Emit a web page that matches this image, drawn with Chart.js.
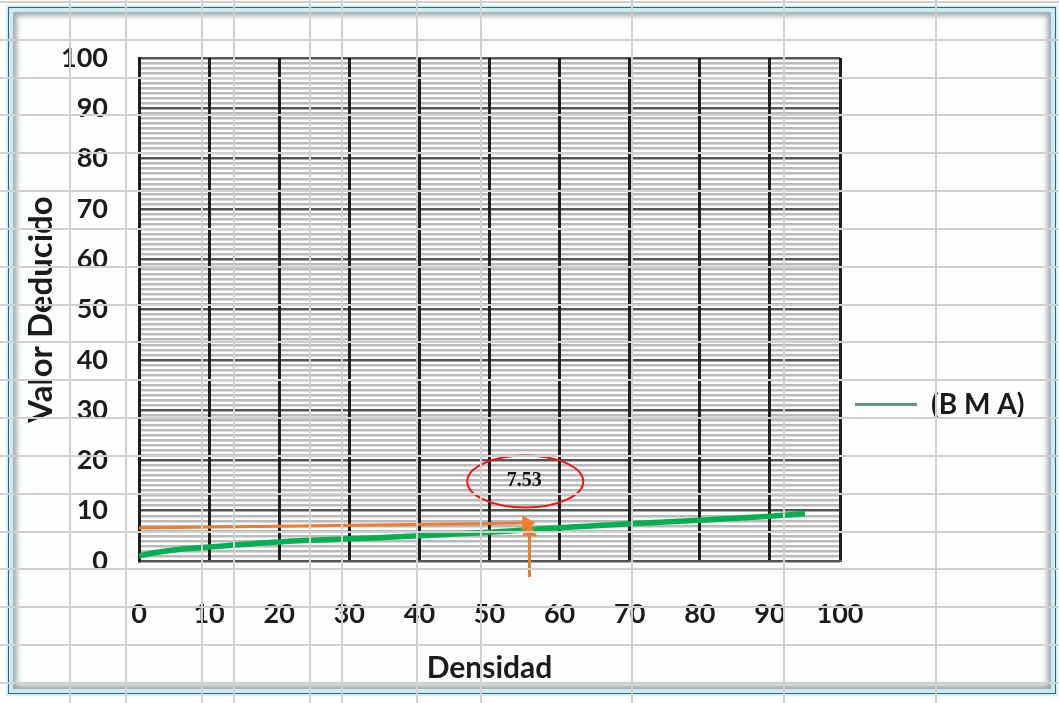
<!DOCTYPE html>
<html>
<head>
<meta charset="utf-8">
<title>Valor Deducido vs Densidad</title>
<script src="https://cdn.jsdelivr.net/npm/chart.js@4/dist/chart.umd.min.js"></script>
<style>
  html, body { margin: 0; padding: 0; background: #fff; }
  #hoja-calculo { position: relative; width: 1059px; height: 703px; overflow: hidden; background: #fff; }
  /* marco del área del gráfico */
  #marco {
    position: absolute; left: 8px; top: 7px; width: 1046px; height: 685px;
    border: 1px solid #3b6371; background: #fdfefe;
    box-shadow: 0 0 0 2px #d3f0f6, inset 0 0 0 4px #c9ecf4, inset 0 0 5px 8px #a6acb0;
  }
  #grafico { position: absolute; left: 0; top: 0; }
  /* cuadrícula de las celdas por encima de todo */
  #celdas {
    position: absolute; left: 0; top: 0; width: 1059px; height: 703px; pointer-events: none;
    background-image:
      repeating-linear-gradient(to bottom, transparent 0 1px, #d0d0d0 1px 3px, transparent 3px 37.83px),
      linear-gradient(to right,
        transparent 69px, #d0d0d0 69px 71px,
        transparent 71px 125px, #d0d0d0 125px 127px,
        transparent 127px 201px, #d0d0d0 201px 203px,
        transparent 203px 233px, #d0d0d0 233px 235px,
        transparent 235px 309px, #d0d0d0 309px 311px,
        transparent 311px 341px, #d0d0d0 341px 343px,
        transparent 343px 416px, #d0d0d0 416px 418px,
        transparent 418px 480px, #d0d0d0 480px 482px,
        transparent 482px 631px, #d0d0d0 631px 633px,
        transparent 633px 783px, #d0d0d0 783px 785px,
        transparent 785px 935px, #d0d0d0 935px 937px,
        transparent 937px);
  }
</style>
</head>
<body>
<div id="hoja-calculo">
  <div id="marco"></div>
  <canvas id="grafico" width="1059" height="703"></canvas>
  <div id="celdas"></div>
</div>
<script>
// Curva de valor deducido (B M A)
const densidad      = [0, 2, 5, 10, 20, 30, 40, 50, 60, 70, 80, 90, 95];
const valorDeducido = [1.0, 1.6, 2.2, 2.8, 3.8, 4.4, 5.0, 5.7, 6.6, 7.4, 8.1, 8.9, 9.4];
const nombreSerie   = '(B M A)';

// Marcas de los ejes
const ticksDensidad = [0, 10, 20, 30, 40, 50, 60, 70, 80, 90, 100];
const ticksValor    = [0, 10, 20, 30, 40, 50, 60, 70, 80, 90, 100];

// Lectura sobre la curva
const lecturaValor     = 7.53;
const lecturaDensidad  = 55.7;
const flechaHorizX     = [0, 55.3];
const flechaHorizY     = [6.56, lecturaValor];
const flechaVertX      = [lecturaDensidad, lecturaDensidad];
const flechaVertY      = [-3.2, 5.8];
const rotuloX          = 55.1;
const rotuloY          = 15.8;

const FUENTE = 'Lato, "Open Sans", "DejaVu Sans", sans-serif';
const VERDE = '#00b050';
const NARANJA = '#ed7d31';
const COLOR_LEYENDA = '#5f9488';

const puntos = (xs, ys) => xs.map((x, i) => ({ x, y: ys[i] }));

// Ancho de la leyenda, para que el área de trazado termine donde corresponde
const LEY_PAD = 15, LEY_CAJA = 62, LEY_TAM = 28;
const medidor = document.createElement('canvas').getContext('2d');
medidor.font = `bold ${LEY_TAM}px ${FUENTE}`;
const anchoLeyenda = LEY_PAD + LEY_CAJA + LEY_TAM / 2 + medidor.measureText(nombreSerie).width + 10;

// Elipse roja con el valor leído
const rotulo = {
  id: 'rotulo',
  afterDatasetsDraw(chart) {
    const { ctx, scales: { x, y } } = chart;
    const cx = x.getPixelForValue(rotuloX);
    const cy = y.getPixelForValue(rotuloY);
    ctx.save();
    ctx.strokeStyle = '#f01515';
    ctx.lineWidth = 2;
    ctx.beginPath();
    ctx.ellipse(cx, cy, 58, 26, 0, 0, Math.PI * 2);
    ctx.stroke();
    ctx.fillStyle = '#111';
    ctx.font = 'bold 20px "Liberation Serif", "Times New Roman", serif';
    ctx.textAlign = 'center';
    ctx.textBaseline = 'middle';
    ctx.fillText(lecturaValor.toFixed(2), cx - 1, cy - 1);
    ctx.restore();
  }
};

new Chart(document.getElementById('grafico'), {
  type: 'line',
  data: {
    datasets: [
      {
        label: nombreSerie,
        order: 2,
        data: puntos(densidad, valorDeducido),
        borderColor: VERDE,
        backgroundColor: VERDE,
        borderWidth: 5.5,
        pointRadius: 0,
        cubicInterpolationMode: 'monotone',
        fill: false
      },
      {
        label: 'flecha-h',
        order: 1,
        data: puntos(flechaHorizX, flechaHorizY),
        borderColor: NARANJA,
        backgroundColor: NARANJA,
        borderWidth: 3,
        pointStyle: 'triangle',
        pointRadius: [0, 9],
        pointRotation: 90,
        pointBorderWidth: 0,
        pointBackgroundColor: NARANJA,
        fill: false
      },
      {
        label: 'flecha-v',
        order: 1,
        data: puntos(flechaVertX, flechaVertY),
        borderColor: NARANJA,
        backgroundColor: NARANJA,
        borderWidth: 3,
        pointStyle: 'triangle',
        pointRadius: [0, 9],
        pointRotation: 0,
        pointBorderWidth: 0,
        pointBackgroundColor: NARANJA,
        clip: false,
        fill: false
      }
    ]
  },
  options: {
    responsive: false,
    animation: false,
    devicePixelRatio: 1,
    layout: { padding: { left: 8, top: 58, bottom: 17, right: 1059 - 840 - anchoLeyenda } },
    scales: {
      x: {
        type: 'linear',
        min: 0, max: 100,
        afterBuildTicks: s => { s.ticks = ticksDensidad.map(v => ({ value: v })); },
        afterFit: s => { s.height = 125; },
        ticks: {
          autoSkip: false, maxRotation: 0, padding: 37,
          color: '#1b1b1b',
          font: { family: FUENTE, size: 27, weight: 'bold' }
        },
        grid: { color: '#1e1e1e', lineWidth: 3, drawTicks: false, z: -1 },
        border: { display: true, color: '#555', width: 2 },
        title: {
          display: true, text: 'Densidad', color: '#1b1b1b',
          font: { family: FUENTE, size: 30, weight: 'bold' },
          padding: { top: 0, bottom: 0 }
        }
      },
      y: {
        type: 'linear',
        min: 0, max: 100,
        afterFit: s => { s.width = 131; },
        ticks: {
          stepSize: 1, autoSkip: false, padding: 31,
          color: '#1b1b1b',
          font: { family: FUENTE, size: 27, weight: 'bold' },
          callback: v => ticksValor.includes(v) ? String(v) : ''
        },
        grid: {
          drawTicks: false, z: -2,
          color: c => ticksValor.includes(c.tick.value) ? '#555555' : '#b9b9b9',
          lineWidth: c => ticksValor.includes(c.tick.value) ? 2.5 : 2.4
        },
        border: { display: true, color: '#1e1e1e', width: 3 },
        title: {
          display: true, text: 'Valor Deducido', color: '#1b1b1b',
          font: { family: FUENTE, size: 33, weight: 'bold' },
          padding: { top: 14, bottom: 0 }
        }
      }
    },
    plugins: {
      tooltip: { enabled: false },
      legend: {
        position: 'right',
        align: 'center',
        title: { display: true, text: '', font: { size: 10 }, padding: { top: 53, bottom: 0 } },
        labels: {
          padding: LEY_PAD,
          boxWidth: LEY_CAJA,
          boxHeight: 3,
          color: '#1b1b1b',
          font: { family: FUENTE, size: LEY_TAM, weight: 'bold' },
          generateLabels: chart => Chart.defaults.plugins.legend.labels.generateLabels(chart)
            .filter(it => it.datasetIndex === 0)
            .map(it => ({ ...it, fillStyle: COLOR_LEYENDA, strokeStyle: COLOR_LEYENDA, lineWidth: 0 }))
        }
      }
    }
  },
  plugins: [rotulo]
});
</script>
</body>
</html>
